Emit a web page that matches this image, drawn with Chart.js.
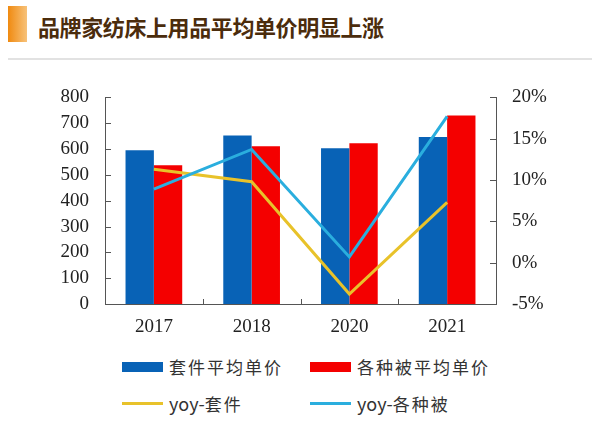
<!DOCTYPE html>
<html>
<head>
<meta charset="utf-8">
<script src="https://cdn.jsdelivr.net/npm/chart.js@4/dist/chart.umd.min.js"></script>
<style>
  body { margin: 0; background: #fff; width: 600px; height: 428px; position: relative; overflow: hidden; }
  #mark { position: absolute; left: 8px; top: 6px; width: 19px; height: 36px;
          background: linear-gradient(90deg, #f08a10, #f7c27a); }
  #title { position: absolute; left: 38px; top: 10px; font-family: "Noto Sans CJK SC"; font-weight: 700;
           font-size: 22px; line-height: 32px; color: #4b2c0c; letter-spacing: -0.4px; }
  #rule { position: absolute; left: 8px; top: 58px; width: 584px; height: 2px; background: #e2e2e2; }
  #wrap { position: absolute; left: 0; top: 70px; width: 600px; height: 274px; }
  #legend { position: absolute; left: 122px; top: 354px; width: 460px; }
  .item { position: absolute; display: flex; align-items: center; font-family: "Noto Sans CJK SC";
          font-size: 17px; letter-spacing: 2px; color: #333; white-space: nowrap; }
  .item .lat { letter-spacing: 0; font-size: 18px; }
  .sw { width: 41px; margin-right: 6px; }
</style>
</head>
<body>
<div id="mark"></div>
<div id="title">品牌家纺床上用品平均单价明显上涨</div>
<div id="rule"></div>
<div id="wrap"><canvas id="chart"></canvas></div>
<div id="legend"></div>
<script>
	var years = ["2017", "2018", "2020", "2021"];
	var setPrice = [595, 652, 603, 647];
	var quiltPrice = [537, 611, 622, 730];
	var yoySet = [11.3, 9.8, -3.8, 7.3];
	var yoyQuilt = [8.9, 13.7, 0.7, 17.7];

	var blue = '#0862b6';
	var red = '#f40000';
	var yellow = '#e8c22a';
	var cyan = '#2aaede';
	var tickFont = { family: 'Liberation Serif', size: 19 };

	// small inward tick marks like the original
	var innerTicks = {
		id: 'innerTicks',
		afterDraw: function (chart) {
			var c = chart.ctx, a = chart.chartArea;
			c.save();
			c.strokeStyle = '#555';
			c.lineWidth = 1;
			c.beginPath();
			chart.scales.y.ticks.forEach(function (t) {
				var yy = Math.round(chart.scales.y.getPixelForValue(t.value)) + 0.5;
				c.moveTo(a.left, yy); c.lineTo(a.left + 6, yy);
			});
			chart.scales.y1.ticks.forEach(function (t) {
				var yy = Math.round(chart.scales.y1.getPixelForValue(t.value)) + 0.5;
				c.moveTo(a.right, yy); c.lineTo(a.right - 6, yy);
			});
			var w = (a.right - a.left) / years.length;
			for (var i = 1; i < years.length; i++) {
				var xx = Math.round(a.left + w * i) + 0.5;
				c.moveTo(xx, a.bottom); c.lineTo(xx, a.bottom - 5);
			}
			c.stroke();
			c.restore();
		}
	};

	var ctx = document.getElementById("chart");
	var chart = new Chart(ctx, {
		type: 'bar',
		data: {
			labels: years,
			datasets: [{
				label: '套件平均单价',
				data: setPrice,
				backgroundColor: blue,
				yAxisID: 'y',
				order: 2
			}, {
				label: '各种被平均单价',
				data: quiltPrice,
				backgroundColor: red,
				yAxisID: 'y',
				order: 2
			}, {
				type: 'line',
				label: 'yoy-套件',
				data: yoySet,
				borderColor: yellow,
				backgroundColor: yellow,
				borderWidth: 3,
				pointRadius: 0,
				yAxisID: 'y1',
				order: 1
			}, {
				type: 'line',
				label: 'yoy-各种被',
				data: yoyQuilt,
				borderColor: cyan,
				backgroundColor: cyan,
				borderWidth: 3,
				pointRadius: 0,
				yAxisID: 'y1',
				order: 0
			}]
		},
		options: {
			responsive: true,
			maintainAspectRatio: false,
			animation: false,
			layout: { padding: { top: 26, left: 0, right: 0, bottom: 0 } },
			datasets: { bar: { categoryPercentage: 0.58, barPercentage: 1 } },
			plugins: { legend: { display: false }, tooltip: { enabled: false } },
			scales: {
				x: {
					grid: { display: false, drawTicks: false },
					border: { color: '#555' },
					ticks: { color: '#222', padding: 12, font: tickFont },
					afterFit: function (s) { s.height = 40; }
				},
				y: {
					position: 'left',
					min: 0, max: 800,
					grid: { display: false, drawTicks: false },
					border: { color: '#555' },
					ticks: { stepSize: 100, color: '#222', padding: 16, font: tickFont },
					afterFit: function (s) { s.width = 105; }
				},
				y1: {
					position: 'right',
					min: -5, max: 20,
					grid: { display: false, drawTicks: false },
					border: { color: '#555' },
					ticks: {
						stepSize: 5, color: '#222', padding: 16, font: tickFont,
						callback: function (v) { return v + '%'; }
					},
					afterFit: function (s) { s.width = 104; }
				}
			}
		},
		plugins: [innerTicks]
	});

	// two-row legend under the chart, built from the datasets
	var pos = [[0, 0], [188, 0], [0, 36], [188, 36]];
	var lg = document.getElementById('legend');
	chart.data.datasets.forEach(function (ds, i) {
		var el = document.createElement('div');
		el.className = 'item';
		el.style.left = pos[i][0] + 'px';
		el.style.top = pos[i][1] + 'px';
		var sw = document.createElement('span');
		sw.className = 'sw';
		sw.style.height = ds.type === 'line' ? '3px' : '10px';
		sw.style.background = ds.type === 'line' ? ds.borderColor : ds.backgroundColor;
		el.appendChild(sw);
		var m = ds.label.match(/^([a-z]+-)(.*)$/);
		if (m) {
			var lat = document.createElement('span');
			lat.className = 'lat';
			lat.textContent = m[1];
			el.appendChild(lat);
			el.appendChild(document.createTextNode(m[2]));
		} else {
			el.appendChild(document.createTextNode(ds.label));
		}
		lg.appendChild(el);
	});
</script>
</body>
</html>
